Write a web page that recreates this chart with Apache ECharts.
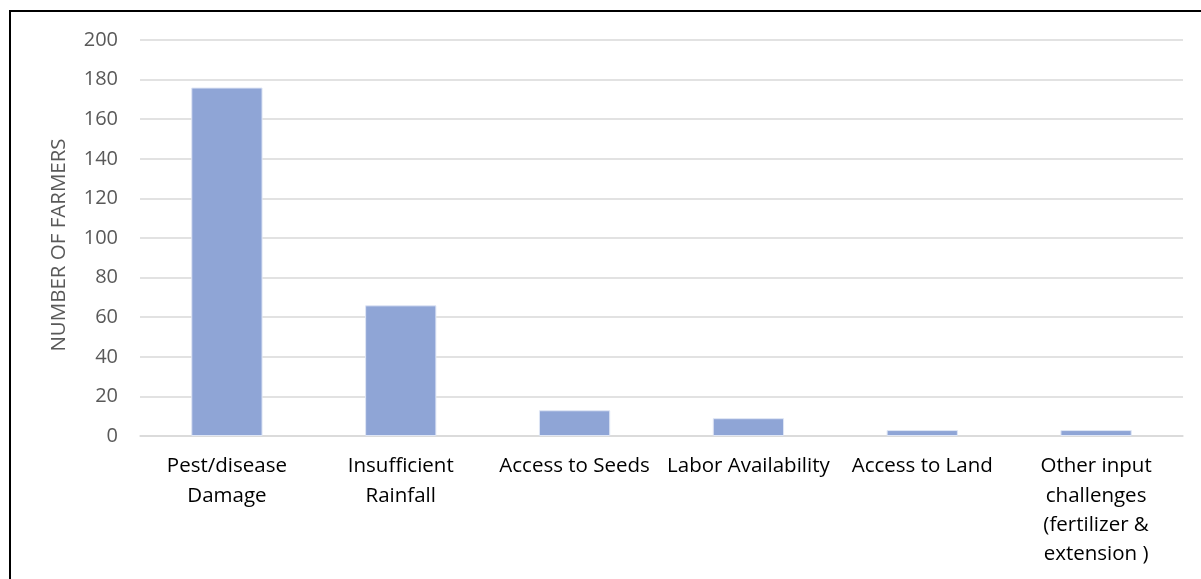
<!DOCTYPE html>
<html>
<head>
<meta charset="utf-8">
<script src="https://cdn.jsdelivr.net/npm/echarts@6/dist/echarts.min.js"></script>
<style>
  html, body { margin: 0; padding: 0; background: #fff; overflow: hidden; }
  #main { position: absolute; left: 0; top: 0; width: 1201px; height: 579px; }
  #frame { position: absolute; left: 9px; top: 10px; width: 1400px; height: 800px;
           border: 2px solid #000; pointer-events: none; }
</style>
</head>
<body>
<div id="main"></div>
<div id="frame"></div>
<script>
// challenges reported by farmers
const categories = [
  "Pest/disease\nDamage",
  "Insufficient\nRainfall",
  "Access to Seeds",
  "Labor Availability",
  "Access to Land",
  "Other input\nchallenges\n(fertilizer &\nextension )"
];
const farmers = [176, 66, 13, 9, 3, 3];
const yTicks = { min: 0, max: 200, interval: 20 };

const font = "'Open Sans', sans-serif";
var myChart = echarts.init(document.getElementById("main"));

var option = {
  animation: false,
  grid: { left: 140, right: 18, top: 40, bottom: 143 },
  xAxis: {
    type: "category",
    data: categories,
    axisLine: { lineStyle: { color: "#d9d9d9", width: 1.5 } },
    axisTick: { show: false },
    axisLabel: {
      interval: 0,
      color: "#000",
      fontFamily: font,
      fontSize: 20.5,
      lineHeight: 29.3,
      margin: 16
    }
  },
  yAxis: {
    type: "value",
    min: yTicks.min,
    max: yTicks.max,
    interval: yTicks.interval,
    name: "NUMBER OF FARMERS",
    nameLocation: "middle",
    nameGap: 70,
    nameTextStyle: { color: "#595959", fontFamily: font, fontSize: 20.5, padding: [0, 14, 0, 0] },
    axisLine: { show: false },
    axisTick: { show: false },
    splitLine: { lineStyle: { color: "#d9d9d9", width: 1.5 } },
    axisLabel: { color: "#595959", fontFamily: font, fontSize: 20, margin: 22 }
  },
  series: [
    {
      type: "bar",
      data: farmers,
      barWidth: "41%",
      itemStyle: { color: "#8fa5d6", borderColor: "#dfe6f5", borderWidth: 1 }
    }
  ]
};
myChart.setOption(option);
</script>
</body>
</html>
